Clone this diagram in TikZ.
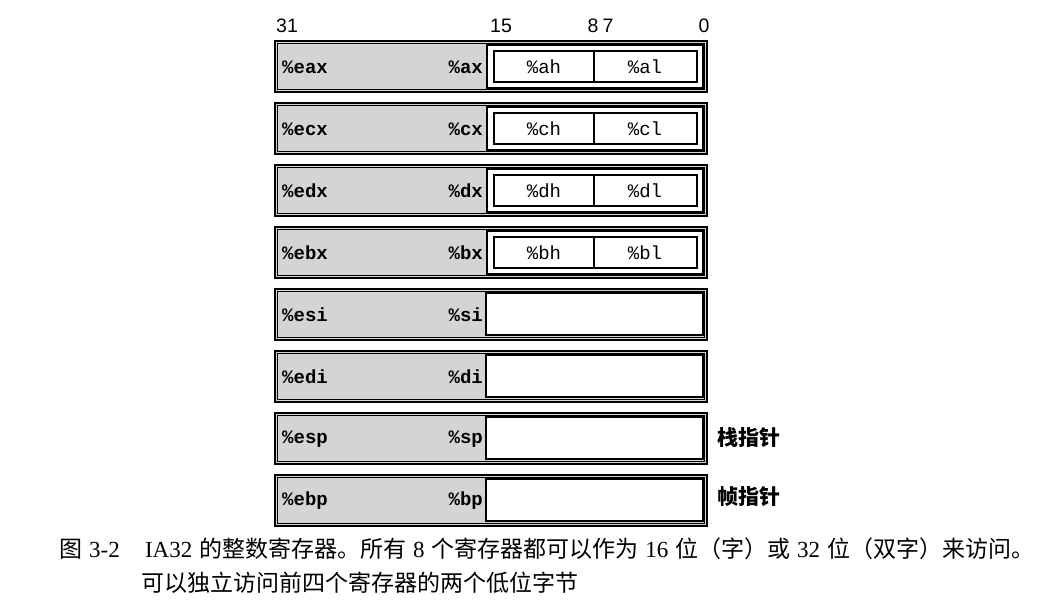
\documentclass[tikz,border=0pt]{standalone}
\usepackage{fontspec}
\setmainfont{Liberation Serif}
\newfontfamily\cjk{Noto Sans CJK SC}
\newfontfamily\regmono{Liberation Mono}
\newfontfamily\bitsans{Liberation Sans}
\newcommand{\lat}[1]{\hspace{0.3em}{\rmfamily #1}\hspace{0.3em}}
\begin{document}
\begin{tikzpicture}[x=1pt,y=-1pt,
  outerbox/.style={draw=black,line width=1.6pt,fill=black!17},
  whitebox/.style={draw=black,line width=1.3pt,fill=white},
  bitlabel/.style={font=\bitsans\fontsize{19.5}{19.5}\selectfont,inner sep=0pt},
  reglabel/.style={font=\regmono\bfseries\fontsize{19}{19}\selectfont,inner sep=0pt},
  bytelabel/.style={font=\regmono\fontsize{19}{19}\selectfont,inner sep=0pt},
  note/.style={font=\cjk\bfseries\fontsize{21}{21}\selectfont,inner sep=0pt,anchor=west},
  caption/.style={font=\cjk\fontsize{23}{23}\selectfont,inner sep=0pt,anchor=west}]
\useasboundingbox (0,0) rectangle (1064,608);
% bit numbers
\node[bitlabel] (b31) at (287,26) {31};
\node[bitlabel] (b15) at (501,26) {15};
\node[bitlabel] (b8) at (593,26) {8};
\node[bitlabel] (b7) at (608,26) {7};
\node[bitlabel] (b0) at (704,26) {0};
% split registers
\foreach \y/\e/\x/\h/\l [count=\i] in {41/eax/ax/ah/al,103/ecx/cx/ch/cl,165/edx/dx/dh/dl,227/ebx/bx/bh/bl}{
  \draw[outerbox] (275,\y) rectangle (707,\y+51);
  \draw[draw=black,line width=0.5pt] (277.5,\y+2.5) rectangle (704.5,\y+48.5);
  \draw[whitebox] (487,\y+4) rectangle (703,\y+47);
  \draw[whitebox] (494,\y+10) rectangle (697,\y+41);
  \draw[line width=1.2pt] (594,\y+10) -- (594,\y+41);
  \node[reglabel,anchor=west] (e\i) at (282,\y+26) {\%\e};
  \node[reglabel,anchor=east] (x\i) at (483,\y+26) {\%\x};
  \node[bytelabel] (h\i) at (544,\y+26) {\%\h};
  \node[bytelabel] (l\i) at (645,\y+26) {\%\l};
}
% whole registers
\foreach \y/\e/\x [count=\i from 5] in {289/esi/si,351/edi/di,413/esp/sp,475/ebp/bp}{
  \draw[outerbox] (275,\y) rectangle (707,\y+51);
  \draw[draw=black,line width=0.5pt] (277.5,\y+2.5) rectangle (704.5,\y+48.5);
  \draw[whitebox] (486,\y+4) rectangle (703,\y+46);
  \node[reglabel,anchor=west] (e\i) at (282,\y+26) {\%\e};
  \node[reglabel,anchor=east] (x\i) at (483,\y+26) {\%\x};
}
\node[note] (sp) at (717,438) {栈指针};
\node[note] (bp) at (717,497) {帧指针};
% caption
\node[caption] (cap1) at (59,549) {图\lat{3-2}\hspace{0.5em}\lat{IA32}的整数寄存器。所有\lat{8}个寄存器都可以作为\lat{16}位（字）或\lat{32}位（双字）来访问。};
\node[caption] (cap2) at (141,583) {可以独立访问前四个寄存器的两个低位字节};
\end{tikzpicture}
\end{document}
